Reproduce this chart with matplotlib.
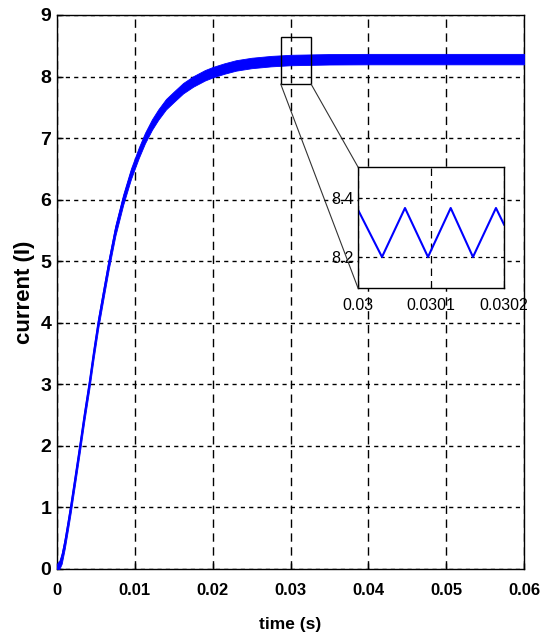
import matplotlib
matplotlib.use("Agg")
import matplotlib.pyplot as plt
from matplotlib.patches import Rectangle, ConnectionPatch
import numpy as np

# ---- data ----
t_mean = [0, 0.0003, 0.0006, 0.001, 0.0014, 0.00176, 0.0023, 0.00295, 0.0035,
          0.00414, 0.0047, 0.0053, 0.006, 0.00667, 0.0075, 0.0085, 0.0095,
          0.0105, 0.0113, 0.0122, 0.013, 0.014, 0.015, 0.0162, 0.0175, 0.019,
          0.02, 0.0215, 0.023, 0.025, 0.0275, 0.03, 0.035, 0.04, 0.05, 0.06]
i_mean = [0, 0.05, 0.17, 0.42, 0.72, 1.0, 1.45, 2.0, 2.48,
          3.0, 3.5, 4.0, 4.5, 4.97, 5.5, 6.0, 6.42,
          6.76, 7.0, 7.22, 7.38, 7.55, 7.67, 7.81, 7.92, 8.02,
          8.07, 8.13, 8.18, 8.22, 8.25, 8.268, 8.28, 8.283, 8.283, 8.283]
ripple_pp = 0.17

# zoomed ripple (triangle vertices)
t_zoom = [0.03, 0.0300329, 0.0300644, 0.0300959, 0.030127, 0.0301575, 0.030189, 0.0302]
i_zoom = [8.36, 8.20, 8.366, 8.20, 8.366, 8.20, 8.366, 8.31]

main_xticks = [0, 0.01, 0.02, 0.03, 0.04, 0.05, 0.06]
main_xticklabels = ["0", "0.01", "0.02", "0.03", "0.04", "0.05", "0.06"]
main_yticks = [0, 1, 2, 3, 4, 5, 6, 7, 8, 9]
inset_xticks = [0.03, 0.0301, 0.0302]
inset_xticklabels = ["0.03", "0.0301", "0.0302"]
inset_yticks = [8.2, 8.4]
inset_yticklabels = ["8.2", "8.4"]
zoom_box = (0.02874, 7.878, 0.0039, 0.769)  # x, y, w, h

plt.rcParams['font.family'] = ['Liberation Sans', 'DejaVu Sans']

fig = plt.figure(figsize=(5.41, 6.37), dpi=100)
ax = fig.add_axes([0.1054, 0.1068, 0.8632, 0.8697])

tm = np.array(t_mean)
im = np.array(i_mean)
lower = np.clip(im - ripple_pp / 2, 0, None)
upper = np.clip(im + ripple_pp / 2, 0, None)
ax.fill_between(tm, lower, upper, color=(0, 0, 1), lw=0.6, edgecolor=(0, 0, 1), zorder=3)
ax.plot(tm, im, color=(0, 0, 1), lw=1.2, zorder=3)

ax.set_xlim(0, 0.06)
ax.set_ylim(0, 9)
ax.set_xticks(main_xticks)
ax.set_xticklabels(main_xticklabels)
ax.set_yticks(main_yticks)
ax.tick_params(direction='in', length=4, width=1)
ax.tick_params(axis='x', labelsize=12, pad=10)
ax.tick_params(axis='y', labelsize=14, pad=4)
for lbl in ax.get_xticklabels() + ax.get_yticklabels():
    lbl.set_fontweight('bold')
ax.xaxis.grid(True, color='black', linestyle=(0, (6, 4)), lw=1.0)
ax.yaxis.grid(True, color='black', linestyle=(0, (3, 3)), lw=1.0)
ax.set_axisbelow(True)
for s in ax.spines.values():
    s.set_linewidth(1.0)
    s.set_color('black')
ax.set_xlabel("time (s)", fontsize=12.5, fontweight='bold', labelpad=14)
ax.set_ylabel("current (I)", fontsize=16, fontweight='bold', labelpad=4)

# zoom rectangle
bx, by, bw, bh = zoom_box
ax.add_patch(Rectangle((bx, by), bw, bh, fill=False, edgecolor='black', lw=1.0, zorder=5))

# inset
axin = fig.add_axes([0.6617, 0.5479, 0.2699, 0.1900])
axin.plot(t_zoom, i_zoom, color=(0, 0, 1), lw=1.5)
axin.set_xlim(0.03, 0.0302)
axin.set_ylim(8.095, 8.505)
axin.set_xticks(inset_xticks)
axin.set_xticklabels(inset_xticklabels)
axin.set_yticks(inset_yticks)
axin.set_yticklabels(inset_yticklabels)
axin.tick_params(direction='in', length=3, labelsize=11.5)
axin.tick_params(axis='x', pad=7)
axin.tick_params(axis='y', pad=3)
axin.xaxis.grid(True, color='black', linestyle=(0, (6, 4)), lw=0.9)
axin.yaxis.grid(True, color='black', linestyle=(0, (3, 3)), lw=0.9)
for s in axin.spines.values():
    s.set_linewidth(1.0)

# connector lines
c1 = ConnectionPatch(xyA=(bx, by), coordsA=ax.transData,
                     xyB=(0, 0), coordsB=axin.transAxes, color='#333333', lw=0.8)
c2 = ConnectionPatch(xyA=(bx + bw, by), coordsA=ax.transData,
                     xyB=(0, 1), coordsB=axin.transAxes, color='#333333', lw=0.8)
fig.add_artist(c1)
fig.add_artist(c2)

fig.savefig("out.png", dpi=100)
